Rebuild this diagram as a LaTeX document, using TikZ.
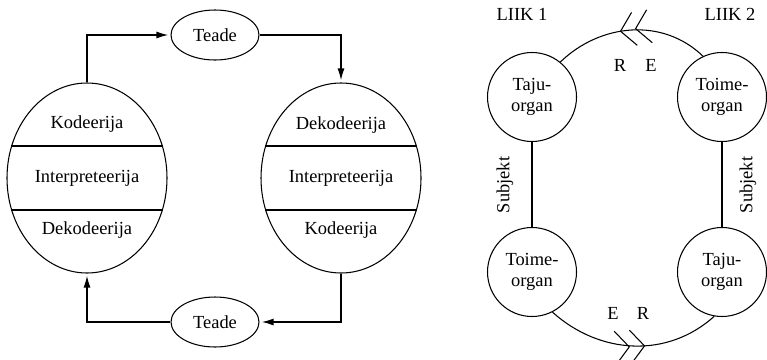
\documentclass[tikz,border=0pt]{standalone}
\usepackage{fontspec}
\setmainfont{Liberation Serif}
\usetikzlibrary{shapes.geometric,arrows.meta,decorations.markings}
\tikzset{
    osa/.style={draw,ellipse,semithick,minimum width=3.2cm,minimum height=3.8cm,inner sep=0pt},
    teade/.style={draw,ellipse,semithick,minimum width=1.76cm,minimum height=1.0cm,inner sep=0pt},
    organ/.style={draw,circle,semithick,minimum size=1.78cm,inner sep=0pt,align=center},
    voog/.style={line width=1pt,-{Latex[length=7pt,width=4pt]},shorten >=1pt},
    jaotus/.style={line width=0.9pt},
    kaar/.style={semithick,
        decoration={markings,
            mark=at position #1 with {\arrow{Straight Barb[length=8pt,width=19pt]Straight Barb[length=8pt,width=19pt]}}},
        postaction={decorate}},
}
\begin{document}
\begin{tikzpicture}[%
        every node/.style={font=\fontsize{10.5}{12}\selectfont},
    ]
    \useasboundingbox (0,0) rectangle (15.34,7.18);

    % two communicating sides
    \node[osa] (lk) at (1.74,3.62) {};
    \node[osa] (rk) at (6.82,3.62) {};
    \draw[jaotus] (lk.157) -- (lk.23);
    \draw[jaotus] (lk.-157) -- (lk.-23);
    \draw[jaotus] (rk.157) -- (rk.23);
    \draw[jaotus] (rk.-157) -- (rk.-23);

    % place the labels inside
    \node (lk1) at (1.74,4.70) {Kodeerija};
    \node (lk2) at (1.74,3.62) {Interpreteerija};
    \node (lk3) at (1.74,2.58) {Dekodeerija};
    \node (rk1) at (6.82,4.68) {Dekodeerija};
    \node (rk2) at (6.82,3.62) {Interpreteerija};
    \node (rk3) at (6.82,2.58) {Kodeerija};

    % messages
    \node[teade] (teade1) at (4.30,6.48) {Teade};
    \node[teade] (teade2) at (4.30,0.74) {Teade};
    \draw[voog] (lk.north) |- (teade1.west);
    \draw[voog] (teade1.east) -| (rk.north);
    \draw[voog] (rk.south) |- (teade2.east);
    \draw[voog] (teade2.west) -| (lk.south);

    % organs of the two kinds
    \node[organ] (tl) at (10.64,5.24) {Taju-\\organ};
    \node[organ] (bl) at (10.64,1.74) {Toime-\\organ};
    \node[organ] (tr) at (14.44,5.24) {Toime-\\organ};
    \node[organ] (br) at (14.44,1.74) {Taju-\\organ};
    \draw[semithick] (tl) -- (bl);
    \draw[semithick] (tr) -- (br);
    \draw[kaar=0.57] (tr.115) to[out=136,in=44] (tl.51);
    \draw[kaar=0.57] (bl.-63) to[out=-42,in=-138] (br.-100);

    % labels
    \node (liik1) at (10.44,6.90) {LIIK 1};
    \node (liik2) at (14.60,6.90) {LIIK 2};
    \node (r1) at (12.40,5.88) {R};
    \node (e1) at (13.02,5.88) {E};
    \node (e2) at (12.26,0.92) {E};
    \node (r2) at (12.86,0.92) {R};
    \node[rotate=90] (subj1) at (10.10,3.48) {Subjekt};
    \node[rotate=90] (subj2) at (14.96,3.48) {Subjekt};
\end{tikzpicture}
\end{document}
